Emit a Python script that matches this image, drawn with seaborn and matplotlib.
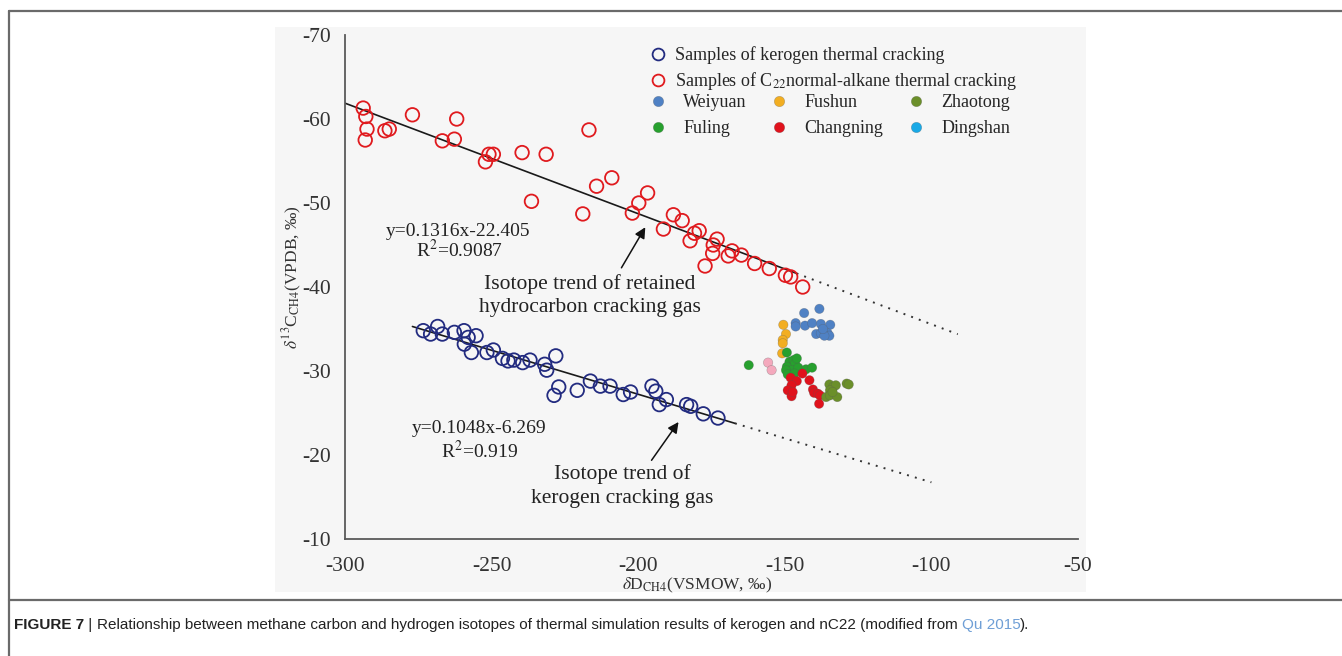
import numpy as np
import pandas as pd
import matplotlib
matplotlib.use("Agg")
import matplotlib.pyplot as plt
import seaborn as sns
from matplotlib.lines import Line2D
from matplotlib.patches import Rectangle

# ---- laboratory pyrolysis samples (dD_CH4, d13C_CH4) ----
kerogen_dD = [-273.3, -270.8, -268.4, -266.8, -262.7, -259.4, -258.0, -259.3, -255.3,
              -256.9, -251.6, -249.4, -246.3, -244.4, -242.4, -239.4, -236.9, -231.9,
              -231.2, -228.1, -227.1, -228.7, -220.8, -216.3, -212.9, -209.6, -205.1,
              -202.6, -195.3, -194.0, -190.4, -192.8, -183.5, -182.1, -177.8, -172.8]
kerogen_d13C = [-34.8, -34.4, -35.3, -34.4, -34.6, -34.8, -34.0, -33.2, -34.2,
                -32.2, -32.2, -32.5, -31.5, -31.2, -31.3, -31.0, -31.3, -30.8,
                -30.1, -31.8, -28.1, -27.1, -27.7, -28.8, -28.2, -28.2, -27.2,
                -27.5, -28.2, -27.6, -26.6, -26.0, -26.0, -25.8, -24.9, -24.4]

c22_dD = [-293.8, -292.9, -292.5, -293.1, -286.4, -284.9, -277.0, -266.8, -262.7,
          -261.9, -252.1, -250.9, -249.4, -239.6, -231.4, -236.4, -216.8, -218.9,
          -214.2, -209.0, -202.0, -199.8, -196.8, -191.4, -188.0, -185.0, -182.3,
          -180.8, -179.2, -177.2, -174.6, -174.4, -173.1, -169.3, -168.0, -164.8,
          -160.3, -155.3, -149.8, -148.0, -143.9]
c22_d13C = [-61.3, -60.3, -58.8, -57.5, -58.6, -58.8, -60.5, -57.4, -57.6,
            -60.0, -54.9, -55.8, -55.8, -56.0, -55.8, -50.2, -58.7, -48.7,
            -52.0, -53.0, -48.8, -50.0, -51.2, -46.9, -48.6, -47.9, -45.5,
            -46.4, -46.7, -42.5, -44.0, -45.0, -45.7, -43.7, -44.3, -43.8,
            -42.8, -42.2, -41.4, -41.2, -40.0]

# ---- shale gas fields ----
weiyuan_dD = [-138.2, -143.4, -146.3, -146.3, -143.1, -140.7, -137.7, -134.5, -139.3,
              -137.7, -135.4, -134.8, -136.5, -137.0]
weiyuan_d13C = [-37.4, -36.9, -35.7, -35.3, -35.4, -35.7, -35.6, -35.5, -34.4,
                -34.5, -34.5, -34.2, -34.2, -35.0]
fushun_dD = [-150.5, -149.6, -150.7, -150.7, -150.9]
fushun_d13C = [-35.5, -34.4, -33.7, -33.3, -32.1]
fuling_dD = [-162.3, -149.3, -148.4, -147.0, -146.5, -149.3, -147.7, -149.6, -145.4,
             -149.0, -142.8, -140.7, -146.7, -145.9]
fuling_d13C = [-30.7, -32.2, -31.1, -31.3, -30.9, -30.5, -30.1, -30.1, -30.4,
               -29.6, -30.2, -30.4, -29.7, -31.5]
changning_dD = [-148.0, -144.0, -145.9, -141.6, -147.7, -149.0, -147.7, -140.4, -140.0,
                -138.7, -138.0, -138.3, -147.3]
changning_d13C = [-29.2, -29.7, -28.8, -28.9, -28.3, -27.7, -27.0, -27.8, -27.4,
                  -27.3, -27.1, -26.1, -27.5]
zhaotong_dD = [-134.8, -133.5, -132.6, -134.6, -135.9, -134.6, -132.1, -128.9, -128.2, -133.7]
zhaotong_d13C = [-28.4, -28.1, -28.3, -27.7, -26.9, -27.1, -26.9, -28.5, -28.4, -27.5]
pink_dD = [-155.7, -154.5]
pink_d13C = [-31.0, -30.1]

field_names = ["Weiyuan", "Fushun", "Zhaotong", "Fuling", "Changning", "Dingshan"]
field_colors = {"Weiyuan": "#4f81c4", "Fushun": "#f2ae22", "Zhaotong": "#6b8f2a",
                "Fuling": "#27a02e", "Changning": "#e0121c", "Dingshan": "#19a9e6",
                "pink": "#f4a9bd"}

# ---- regression trends: slope, intercept, solid range, dotted range ----
c22_fit = (0.1316, -22.405)
c22_solid = (-300, -146)
c22_dotted = (-146, -91)
ker_fit = (0.1048, -6.269)
ker_solid = (-277, -167)
ker_dotted = (-167, -100)

x_ticks = [-300, -250, -200, -150, -100, -50]
y_ticks = [-70, -60, -50, -40, -30, -20, -10]

# ---------------------------------------------------------------------------
sns.set_theme(style="white")
plt.rcParams["font.family"] = ["Liberation Serif", "DejaVu Serif"]
plt.rcParams["mathtext.fontset"] = "stix"

W, H = 1342, 656
fig = plt.figure(figsize=(W / 100, H / 100), dpi=100)
fig.patch.set_facecolor("white")


def fx(px):
    return px / W


def fy(py):
    return 1 - py / H


# grey panel behind the chart
fig.patches.append(Rectangle((fx(275), fy(592)), fx(1086) - fx(275), fy(27) - fy(592),
                             transform=fig.transFigure, facecolor="#f6f6f6",
                             edgecolor="none", zorder=-5))
# page frame lines
frame = dict(color="#6a6a6a", lw=1.6, transform=fig.transFigure)
fig.add_artist(Line2D([fx(9), 1], [fy(11), fy(11)], **frame))
fig.add_artist(Line2D([fx(9), fx(9)], [fy(11), 0], **frame))
fig.add_artist(Line2D([fx(9), 1], [fy(600), fy(600)], **frame))

ax = fig.add_axes([fx(345), fy(539), fx(1078) - fx(345), fy(35) - fy(539)])
ax.set_facecolor("none")
ax.set_zorder(2)

# trend lines
for (m, b), solid, dotted in [(c22_fit, c22_solid, c22_dotted), (ker_fit, ker_solid, ker_dotted)]:
    xs = np.array(solid)
    ax.plot(xs, m * xs + b, color="#1a1a1a", lw=1.2, zorder=2)
    xd = np.array(dotted)
    ax.plot(xd, m * xd + b, color="#333333", lw=1.4, ls=(0, (1, 3.2)), zorder=2)

# hollow pyrolysis samples
lab = pd.DataFrame({"dD": kerogen_dD + c22_dD, "d13C": kerogen_d13C + c22_d13C,
                    "set": ["kerogen"] * len(kerogen_dD) + ["C22"] * len(c22_dD)})
sns.scatterplot(data=lab[lab["set"] == "kerogen"], x="dD", y="d13C", ax=ax, s=95,
                facecolors="none", edgecolor="#222b80", linewidth=1.3, legend=False, zorder=3)
sns.scatterplot(data=lab[lab["set"] == "C22"], x="dD", y="d13C", ax=ax, s=95,
                facecolors="none", edgecolor="#e01a1e", linewidth=1.3, legend=False, zorder=3)

# shale gas field samples
fields = pd.DataFrame({
    "dD": weiyuan_dD + fushun_dD + fuling_dD + changning_dD + zhaotong_dD + pink_dD,
    "d13C": weiyuan_d13C + fushun_d13C + fuling_d13C + changning_d13C + zhaotong_d13C + pink_d13C,
    "field": (["Weiyuan"] * len(weiyuan_dD) + ["Fushun"] * len(fushun_dD)
              + ["Fuling"] * len(fuling_dD) + ["Changning"] * len(changning_dD)
              + ["Zhaotong"] * len(zhaotong_dD) + ["pink"] * len(pink_dD)),
})
sns.scatterplot(data=fields, x="dD", y="d13C", hue="field", palette=field_colors, ax=ax,
                s=46, edgecolor="#55555566", linewidth=0.4, legend=False, zorder=4)

ax.set_xlim(-300, -50)
ax.set_ylim(-10, -70)
ax.set_xticks(x_ticks)
ax.set_yticks(y_ticks)
ax.set_xticklabels([str(v) for v in x_ticks])
ax.set_yticklabels([str(v) for v in y_ticks])
for side in ["top", "right"]:
    ax.spines[side].set_visible(False)
for side in ["left", "bottom"]:
    ax.spines[side].set_color("#5a5a5a")
    ax.spines[side].set_linewidth(1.3)
ax.tick_params(axis="both", direction="in", length=4, width=1.0, color="#5a5a5a",
               labelsize=15.5, labelcolor="#333333")
ax.tick_params(axis="y", pad=10)
ax.tick_params(axis="x", pad=13)

ax.set_xlabel(r"$\delta$D$_{\mathrm{CH4}}$(VSMOW, ‰)", fontsize=12.5, color="#333333")
ax.set_ylabel(r"$\delta^{13}$C$_{\mathrm{CH4}}$(VPDB, ‰)", fontsize=12.5, color="#333333")
ax.xaxis.set_label_coords(0.48, -0.073)
ax.yaxis.set_label_coords(-0.056, 0.52)

# annotations
txt = dict(color="#222222", ha="center", va="center")
ax.text(-261.5, -46.6, "y=0.1316x-22.405", fontsize=14, **txt)
ax.text(-260.8, -44.4, r"R$^{2}$=0.9087", fontsize=14, **txt)
ax.text(-216.4, -39.0, "Isotope trend of retained\nhydrocarbon cracking gas",
        fontsize=15.5, linespacing=1.25, **txt)
ax.text(-254.3, -23.2, "y=0.1048x-6.269", fontsize=14, **txt)
ax.text(-254.0, -20.5, r"R$^{2}$=0.919", fontsize=14, **txt)
ax.text(-205.5, -16.3, "Isotope trend of\nkerogen cracking gas",
        fontsize=15.5, linespacing=1.3, **txt)
arrow = dict(arrowstyle="-|>", color="#111111", lw=1.1, mutation_scale=16)
ax.annotate("", xy=(-197.1, -47.4), xytext=(-206.2, -42.0), arrowprops=arrow)
ax.annotate("", xy=(-185.7, -24.2), xytext=(-196.0, -19.1), arrowprops=arrow)

# legends
h1 = [Line2D([], [], ls="none", marker="o", ms=8.5, mfc="none", mec="#222b80", mew=1.3),
      Line2D([], [], ls="none", marker="o", ms=8.5, mfc="none", mec="#e01a1e", mew=1.3)]
l1 = ["Samples of kerogen thermal cracking",
      r"Samples of C$_{22}$normal-alkane thermal cracking"]
leg1 = ax.legend(h1, l1, loc="upper left", bbox_to_anchor=(fx(649), fy(46)),
                 bbox_transform=fig.transFigure, frameon=False, fontsize=13,
                 handlelength=1.0, handletextpad=0.45, labelspacing=0.35, borderpad=0,
                 borderaxespad=0)
ax.add_artist(leg1)
order = ["Weiyuan", "Fuling", "Fushun", "Changning", "Zhaotong", "Dingshan"]
h2 = [Line2D([], [], ls="none", marker="o", ms=7.5, mfc=field_colors[n],
             mec="#55555566", mew=0.4) for n in order]
leg2 = ax.legend(h2, order, loc="upper left", bbox_to_anchor=(fx(649), fy(94)),
                 bbox_transform=fig.transFigure, frameon=False, fontsize=13, ncol=3,
                 handlelength=1.0, handletextpad=0.9, labelspacing=0.5, borderpad=0,
                 borderaxespad=0, columnspacing=1.3)

# caption
fig.canvas.draw()
renderer = fig.canvas.get_renderer()
cap_font = ["Liberation Sans", "DejaVu Sans"]
pieces = [("FIGURE 7", "bold", "#222222"), (" | ", "normal", "#222222"),
          ("Relationship between methane carbon and hydrogen isotopes of thermal simulation "
           "results of kerogen and nC22 (modified from ", "normal", "#222222"),
          ("Qu 2015", "normal", "#6f9fd6"), (").", "normal", "#222222")]
x_cur = 14
cap_size = 11
for s, wt, col in pieces:
    t = fig.text(fx(x_cur), fy(625), s, fontsize=cap_size, fontweight=wt, color=col,
                 family=cap_font, ha="left", va="center")
    bb = t.get_window_extent(renderer)
    x_cur = bb.x1

fig.savefig("out.png", dpi=100)
